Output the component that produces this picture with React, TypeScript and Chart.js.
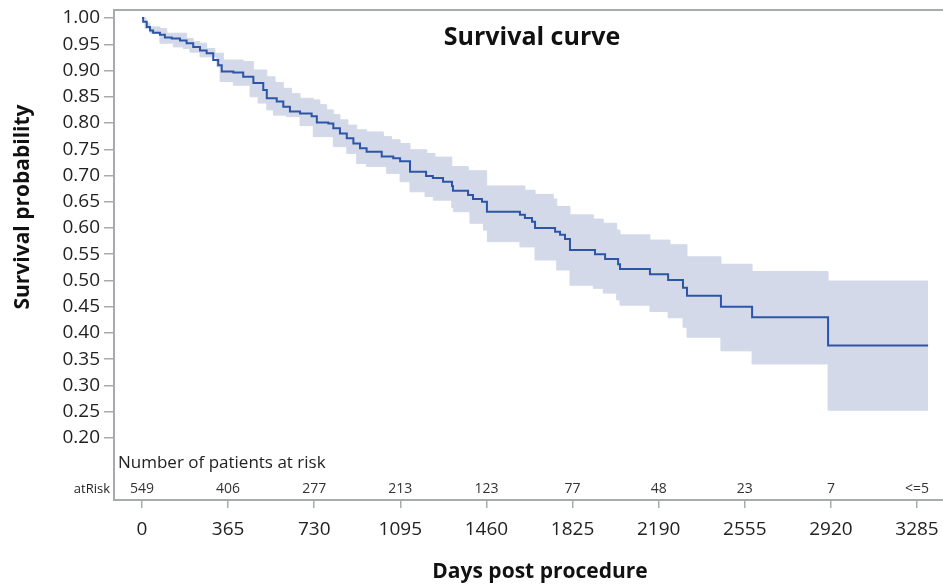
import React, { useEffect, useRef } from 'react';
import { Chart, registerables } from 'chart.js';

Chart.register(...registerables);

// Kaplan-Meier estimate (day of drop, new survival value)
const survivalDays = [0, 5, 20, 34, 47, 76, 97, 126, 161, 189, 217, 246, 274, 302, 323, 338, 387, 429, 472, 514, 529, 571, 599, 627, 670, 719, 741, 790, 811, 839, 868, 896, 924, 952, 1016, 1065, 1094, 1136, 1204, 1233, 1276, 1314, 1318, 1382, 1403, 1441, 1462, 1602, 1623, 1653, 1666, 1751, 1772, 1793, 1814, 1920, 1963, 2018, 2026, 2153, 2230, 2293, 2310, 2454, 2586, 2908, 3332];
const survivalProb = [1.0, 0.993, 0.983, 0.976, 0.972, 0.968, 0.963, 0.961, 0.957, 0.952, 0.945, 0.938, 0.933, 0.92, 0.91, 0.898, 0.896, 0.888, 0.876, 0.863, 0.847, 0.841, 0.831, 0.822, 0.818, 0.813, 0.801, 0.799, 0.79, 0.78, 0.771, 0.761, 0.752, 0.745, 0.736, 0.733, 0.727, 0.707, 0.699, 0.695, 0.688, 0.68, 0.671, 0.663, 0.655, 0.65, 0.631, 0.625, 0.619, 0.612, 0.6, 0.593, 0.587, 0.579, 0.558, 0.55, 0.541, 0.531, 0.522, 0.512, 0.501, 0.486, 0.471, 0.45, 0.43, 0.376, 0.376];

// Upper confidence limit
const upperDays = [0, 17, 34, 76, 105, 189, 217, 246, 274, 309, 345, 429, 472, 529, 564, 599, 634, 670, 726, 754, 783, 811, 839, 873, 910, 952, 1023, 1058, 1094, 1136, 1207, 1242, 1313, 1383, 1461, 1623, 1666, 1743, 1758, 1814, 1913, 1955, 2012, 2026, 2153, 2238, 2310, 2454, 2586, 2908, 3332];
const upperProb = [1.0, 0.99, 0.983, 0.98, 0.971, 0.961, 0.955, 0.952, 0.942, 0.933, 0.92, 0.917, 0.901, 0.888, 0.877, 0.866, 0.856, 0.847, 0.844, 0.835, 0.825, 0.816, 0.806, 0.796, 0.787, 0.783, 0.774, 0.768, 0.761, 0.749, 0.742, 0.735, 0.717, 0.709, 0.68, 0.672, 0.664, 0.655, 0.641, 0.625, 0.617, 0.609, 0.596, 0.587, 0.577, 0.568, 0.545, 0.531, 0.517, 0.499, 0.499];

// Lower confidence limit
const lowerDays = [0, 13, 34, 76, 133, 175, 203, 246, 317, 331, 387, 458, 492, 529, 557, 613, 670, 726, 811, 868, 910, 952, 1037, 1094, 1136, 1200, 1235, 1313, 1320, 1390, 1447, 1464, 1602, 1666, 1758, 1814, 1913, 1955, 2012, 2026, 2153, 2230, 2293, 2310, 2454, 2586, 2908, 3332];
const lowerProb = [1.0, 0.98, 0.971, 0.952, 0.945, 0.942, 0.935, 0.926, 0.907, 0.879, 0.872, 0.85, 0.838, 0.825, 0.815, 0.812, 0.795, 0.774, 0.755, 0.742, 0.723, 0.717, 0.704, 0.688, 0.669, 0.66, 0.653, 0.639, 0.631, 0.609, 0.596, 0.574, 0.564, 0.539, 0.52, 0.491, 0.485, 0.476, 0.463, 0.453, 0.441, 0.429, 0.411, 0.392, 0.366, 0.341, 0.253, 0.253];

const xTickDays = [0, 365, 730, 1095, 1460, 1825, 2190, 2555, 2920, 3285];
const yTickValues = [0.2, 0.25, 0.3, 0.35, 0.4, 0.45, 0.5, 0.55, 0.6, 0.65, 0.7, 0.75, 0.8, 0.85, 0.9, 0.95, 1.0];
const atRiskCounts = ['549', '406', '277', '213', '123', '77', '48', '23', '7', '<=5'];

const FRAME = '#a7abb0';
const LINE = '#2c55a8';
const BAND = 'rgb(211,217,232)';
const TEXT = '#111111';

const toPoints = (xs: number[], ys: number[]) => xs.map((x, i) => ({ x, y: ys[i] }));

const overlay = {
  id: 'overlay',
  afterDraw(chart: any) {
    const { ctx, chartArea, scales } = chart;
    const xs = scales.x;
    const ys = scales.y;
    ctx.save();
    // top frame line
    ctx.strokeStyle = FRAME;
    ctx.lineWidth = 2;
    ctx.beginPath();
    ctx.moveTo(chartArea.left, chartArea.top);
    ctx.lineTo(chartArea.right, chartArea.top);
    ctx.stroke();

    // chart title inside plot
    ctx.fillStyle = TEXT;
    ctx.textAlign = 'center';
    ctx.textBaseline = 'middle';
    ctx.font = 'bold 25px "Open Sans"';
    ctx.fillText('Survival curve', 532, ys.getPixelForValue(0.962));

    // at-risk table
    ctx.textAlign = 'left';
    ctx.font = '17px "Open Sans"';
    ctx.fillStyle = '#222222';
    ctx.fillText('Number of patients at risk', chartArea.left + 4, ys.getPixelForValue(0.152));
    ctx.textAlign = 'right';
    ctx.font = '13px "Open Sans"';
    ctx.fillText('atRisk', chartArea.left - 4, ys.getPixelForValue(0.103));
    ctx.textAlign = 'center';
    ctx.font = '14px "Liberation Sans Narrow", "Open Sans"';
    ctx.fillStyle = '#333333';
    atRiskCounts.forEach((c, i) => {
      ctx.fillText(c, xs.getPixelForValue(xTickDays[i]), ys.getPixelForValue(0.103));
    });

    // axis titles
    ctx.fillStyle = TEXT;
    ctx.font = 'bold 21px "Open Sans"';
    ctx.textAlign = 'center';
    ctx.fillText('Days post procedure', 540, 572);
    ctx.save();
    ctx.translate(23, ys.getPixelForValue(0.64));
    ctx.rotate(-Math.PI / 2);
    ctx.fillText('Survival probability', 0, 0);
    ctx.restore();
    ctx.restore();
  },
};

export default function App() {
  const ref = useRef<HTMLCanvasElement | null>(null);
  useEffect(() => {
    if (!ref.current) return;
    const chart = new Chart(ref.current, {
      type: 'line',
      data: {
        datasets: [
          {
            label: 'Survival',
            data: toPoints(survivalDays, survivalProb),
            borderColor: LINE,
            borderWidth: 2,
            stepped: true,
            pointRadius: 0,
            fill: false,
          },
          {
            label: 'Upper CL',
            data: toPoints(upperDays, upperProb),
            borderColor: BAND,
            backgroundColor: BAND,
            borderWidth: 1,
            stepped: true,
            pointRadius: 0,
            fill: '+1',
          },
          {
            label: 'Lower CL',
            data: toPoints(lowerDays, lowerProb),
            borderColor: BAND,
            backgroundColor: BAND,
            borderWidth: 1,
            stepped: true,
            pointRadius: 0,
            fill: false,
          },
        ],
      },
      options: {
        animation: false,
        responsive: true,
        maintainAspectRatio: false,
        layout: { padding: { left: 0, right: 0, top: 10, bottom: 0 } },
        plugins: {
          legend: { display: false },
          tooltip: { enabled: false },
          title: { display: false },
        },
        scales: {
          x: {
            type: 'linear',
            min: -118.7,
            max: 3395.2,
            afterBuildTicks: (s: any) => {
              s.ticks = xTickDays.map((v) => ({ value: v }));
            },
            afterFit: (s: any) => {
              s.height = 86;
              s.paddingLeft = 0;
              s.paddingRight = 0;
            },
            grid: {
              drawOnChartArea: false,
              drawTicks: true,
              tickLength: 8,
              color: FRAME,
              lineWidth: 1.5,
            },
            border: { display: true, color: FRAME, width: 2 },
            ticks: {
              autoSkip: false,
              maxRotation: 0,
              padding: 10,
              color: '#222222',
              font: { family: '"Open Sans"', size: 19 },
              callback: (v: any) => String(v),
            },
          },
          y: {
            type: 'linear',
            min: 0.0819,
            max: 1.01524,
            afterBuildTicks: (s: any) => {
              s.ticks = yTickValues.map((v) => ({ value: v }));
            },
            afterFit: (s: any) => {
              s.width = 114;
              s.paddingTop = 0;
              s.paddingBottom = 0;
            },
            grid: {
              drawOnChartArea: false,
              drawTicks: true,
              tickLength: 10,
              color: FRAME,
              lineWidth: 1.5,
            },
            border: { display: true, color: FRAME, width: 2 },
            ticks: {
              autoSkip: false,
              padding: 4,
              color: '#222222',
              font: { family: '"Open Sans"', size: 19 },
              callback: (v: any) => Number(v).toFixed(2),
            },
          },
        },
      },
      plugins: [overlay],
    });
    return () => chart.destroy();
  }, []);

  return (
    <div style={{ position: 'fixed', left: 0, top: 0, width: 943, height: 586, background: '#ffffff' }}>
      <canvas ref={ref} />
    </div>
  );
}
